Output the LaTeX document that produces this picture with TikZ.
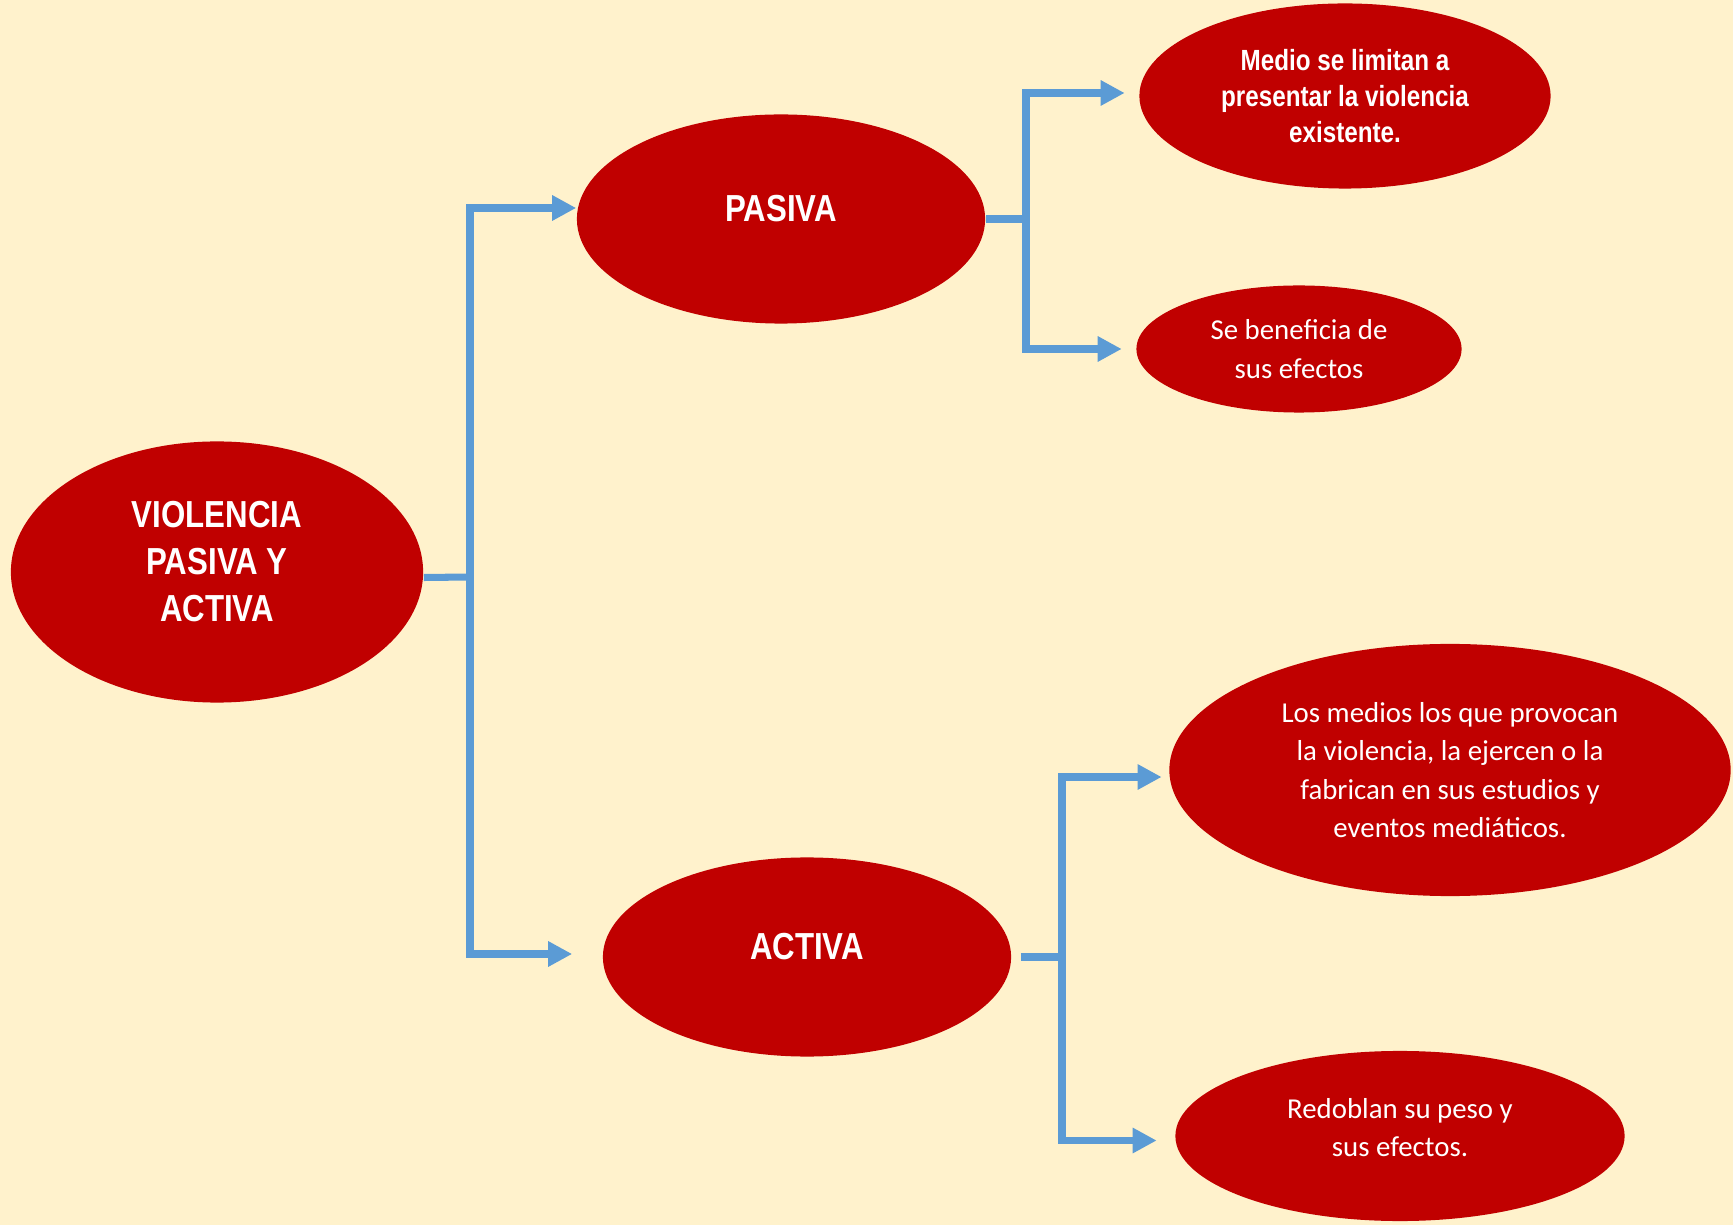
\documentclass[tikz,border=0pt]{standalone}
\usepackage{fontspec}
\setmainfont{Carlito}
\newfontfamily\narrowfont[FakeStretch=0.83]{Liberation Sans}
\usetikzlibrary{shapes.geometric,arrows.meta}

\definecolor{fondo}{HTML}{FFF2CC}
\definecolor{rojo}{HTML}{C00000}
\definecolor{azul}{HTML}{5B9BD5}

\tikzset{
  elipse/.style={ellipse, fill=rojo, text=white, inner sep=0pt, align=center},
  titulo/.style={elipse, font=\narrowfont\bfseries\fontsize{10.7}{13.3}\selectfont},
  nota/.style={elipse, font=\fontsize{8.2}{10.9}\selectfont},
  enlace/.style={draw=azul, line width=2pt},
  flecha/.style={enlace, -{Triangle[length=2.4mm,width=2.4mm]}}
}

\begin{document}
\begin{tikzpicture}[x=0.01cm, y=-0.01cm]
\fill[fondo] (0,0) rectangle (1733,1225);
\useasboundingbox (0,0) rectangle (1733,1225);

%\node (P0) at (217,572) {};
\node[titulo, text depth=6.2pt, minimum width=4.12cm, minimum height=2.61cm] (P0) at (217,572) {VIOLENCIA\\PASIVA Y\\ACTIVA};
\node[titulo, text depth=6.2pt, minimum width=4.08cm, minimum height=2.09cm] (P1) at (781,219) {PASIVA};
\node[titulo, text depth=6.2pt, minimum width=4.08cm, minimum height=1.99cm] (P2) at (807,957) {ACTIVA};

\node[titulo, font=\narrowfont\bfseries\fontsize{8.3}{10.2}\selectfont,
  minimum width=4.11cm, minimum height=1.85cm] (P3) at (1345,96) {Medio se limitan a\\presentar la violencia\\existente.};
\node[nota, minimum width=3.25cm, minimum height=1.27cm] (P4) at (1299,349) {Se beneficia de\\sus efectos};
\node[nota, minimum width=5.61cm, minimum height=2.52cm] (P5) at (1450,770) {Los medios los que provocan\\la violencia, la ejercen o la\\fabrican en sus estudios y\\eventos mediáticos.};
\node[nota, text depth=5pt, minimum width=4.49cm, minimum height=1.70cm] (P6) at (1400,1136) {Redoblan su peso y\\sus efectos.};

\coordinate (J0) at (470,577);
\coordinate (J1) at (1026,219);
\coordinate (J2) at (1062,957);

\draw[enlace] ([yshift=-0.55mm]P0.east) -- (J0);
\draw[flecha] (J0) |- ([yshift=1.1mm]P1.west);
\draw[flecha, shorten >=3mm] (J0) |- ([yshift=0.3mm]P2.west);

\draw[enlace] (P1.east) -- (J1);
\draw[flecha, shorten >=1.4mm] (J1) |- ([yshift=0.3mm]P3.west);
\draw[flecha, shorten >=1.4mm] (J1) |- (P4.west);

\draw[enlace, shorten <=0.9mm] (P2.east) -- (J2);
\draw[flecha, shorten >=0.7mm] (J2) |- ([yshift=-0.7mm]P5.west);
\draw[flecha, shorten >=1.8mm] (J2) |- ([yshift=-0.45mm]P6.west);
\end{tikzpicture}
\end{document}
